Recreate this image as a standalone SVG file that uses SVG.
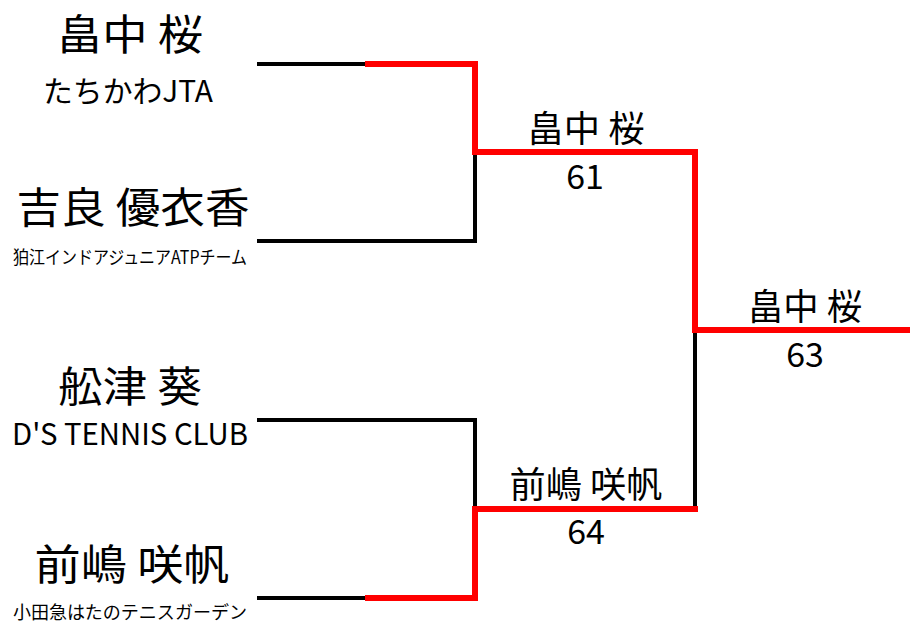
<svg xmlns="http://www.w3.org/2000/svg" width="910" height="625" viewBox="0 0 910 625">
<style>
.t{font-family:"Noto Sans CJK JP","Noto Sans",sans-serif;fill:#000;text-anchor:middle}
.nm{font-size:42px}
.cl{font-size:30px}
.sm{font-size:18px}
.rn{font-size:36px}
.sc{font-size:34px}
.bk{fill:none;stroke:#000;stroke-width:4;stroke-linejoin:miter;stroke-linecap:butt}
.rd{fill:none;stroke:#ff0000;stroke-width:6;stroke-linejoin:miter;stroke-linecap:square}
</style>
<rect width="910" height="625" fill="#fff"/>
<g id="connectors">
<path class="bk" d="M257,64 H367"/>
<path class="bk" d="M257,241 H475 V152"/>
<path class="bk" d="M695,330 V509"/>
<path class="bk" d="M257,420 H475 V509"/>
<path class="bk" d="M257,598 H367"/>
<path class="rd" d="M368,64 H475 V152 H695 V330 H913"/>
<path class="rd" d="M368,598 H475 V509 H695"/>
</g>
<g id="p1">
<text class="t nm" x="130" y="50" textLength="146" lengthAdjust="spacingAndGlyphs">畠中 桜</text>
<text class="t cl" x="128" y="102" textLength="170" lengthAdjust="spacingAndGlyphs">たちかわJTA</text>
</g>
<g id="p2">
<text class="t nm" x="133" y="223" textLength="233" lengthAdjust="spacingAndGlyphs">吉良 優衣香</text>
<text class="t sm" x="130" y="264" textLength="234" lengthAdjust="spacingAndGlyphs">狛江インドアジュニアATPチーム</text>
</g>
<g id="p3">
<text class="t nm" x="130" y="402" textLength="144" lengthAdjust="spacingAndGlyphs">舩津 葵</text>
<text class="t cl" x="130" y="445" textLength="236" lengthAdjust="spacingAndGlyphs">D'S TENNIS CLUB</text>
</g>
<g id="p4">
<text class="t nm" x="132" y="580" textLength="195" lengthAdjust="spacingAndGlyphs">前嶋 咲帆</text>
<text class="t sm" x="130" y="619" textLength="234" lengthAdjust="spacingAndGlyphs">小田急はたのテニスガーデン</text>
</g>
<g id="sf1">
<text class="t rn" x="586" y="142" textLength="117" lengthAdjust="spacingAndGlyphs">畠中 桜</text>
<text class="t sc" x="585" y="189">61</text>
</g>
<g id="sf2">
<text class="t rn" x="586" y="498" textLength="153" lengthAdjust="spacingAndGlyphs">前嶋 咲帆</text>
<text class="t sc" x="586" y="544">64</text>
</g>
<g id="final">
<text class="t rn" x="805" y="320" textLength="114" lengthAdjust="spacingAndGlyphs">畠中 桜</text>
<text class="t sc" x="805" y="367">63</text>
</g>
</svg>
